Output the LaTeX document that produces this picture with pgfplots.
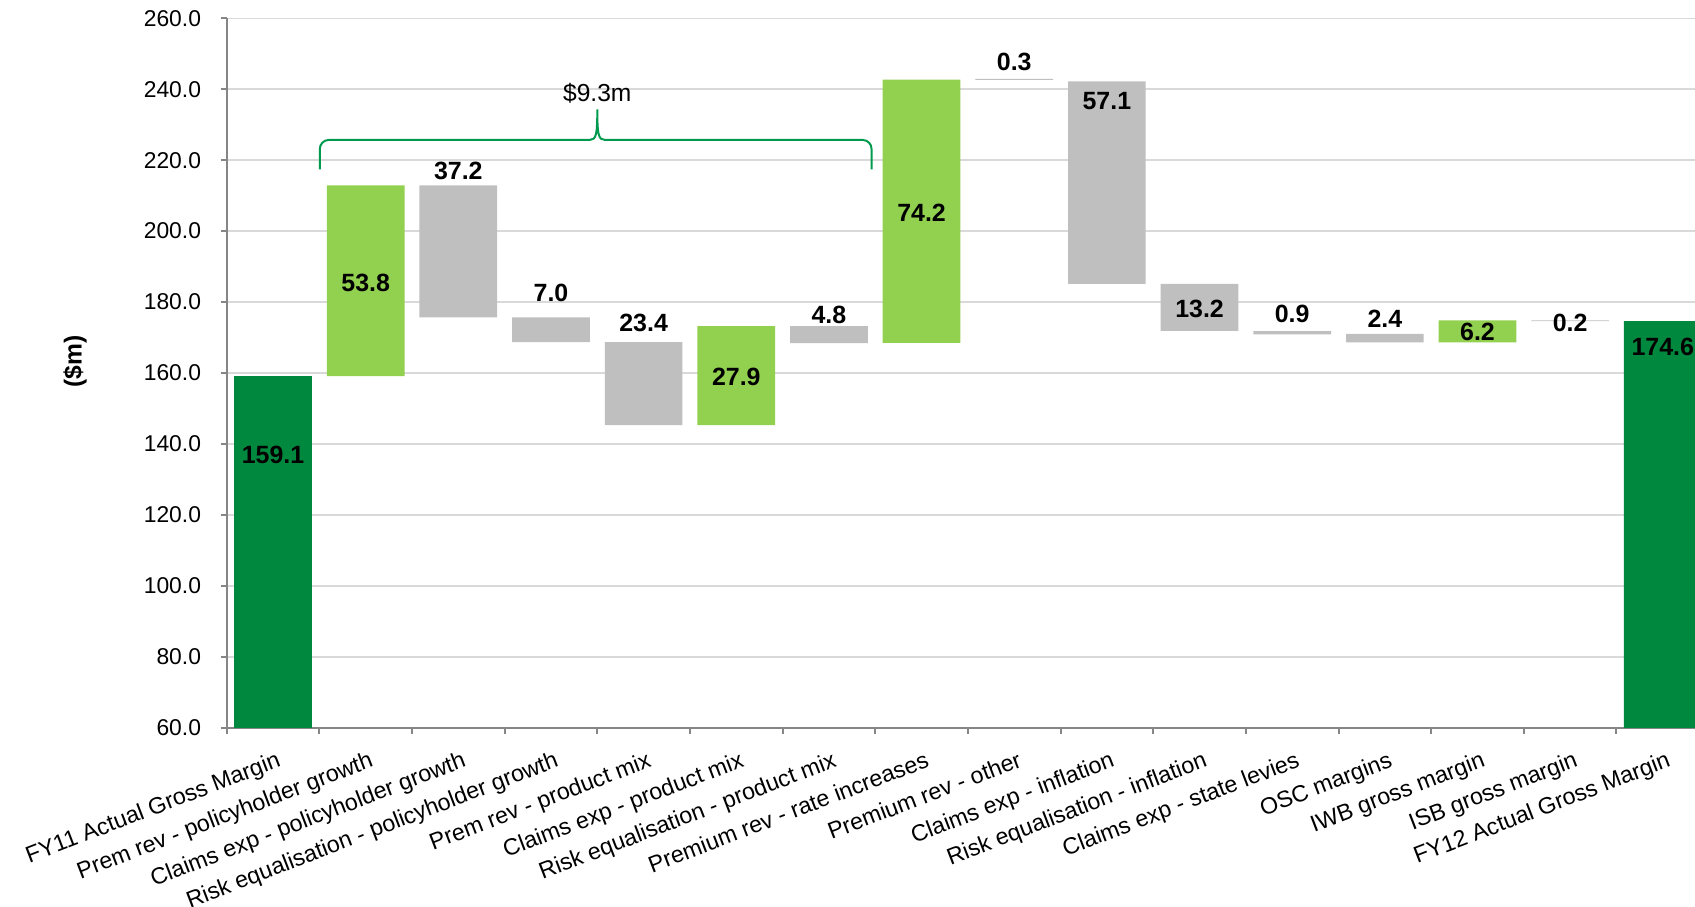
\documentclass[border=0pt]{standalone}
\usepackage{fontspec}
\setmainfont{Liberation Sans}
\usepackage{pgfplots}
\pgfplotsset{compat=1.18}
\usepackage{pgfplotstable}

\definecolor{dkgreen}{RGB}{0,137,62}
\definecolor{ltgreen}{RGB}{146,208,80}
\definecolor{bargrey}{RGB}{191,191,191}
\definecolor{gridgrey}{RGB}{217,217,217}
\definecolor{axisgrey}{RGB}{134,134,134}
\definecolor{bracegreen}{RGB}{0,154,78}

% waterfall: invisible base + visible segment
\pgfplotstableread{
x base total up down
0  0     159.1 0    0
1  159.1 0     53.8 0
2  175.7 0     0    37.2
3  168.7 0     0    7.0
4  145.3 0     0    23.4
5  145.3 0     27.9 0
6  168.4 0     0    4.8
7  168.5 0     74.2 0
8  242.6 0     0    0.3
9  185.1 0     0    57.1
10 171.9 0     0    13.2
11 170.9 0     0    0.9
12 168.6 0     0    2.4
13 168.6 0     6.2  0
14 174.6 0     0    0.2
15 0     174.6 0    0
}\bars

\pgfplotstableread{
x y label
0  136.9 159.1
1  185.5 53.8
2  217.0 37.2
3  182.5 7.0
4  174.0 23.4
5  158.8 27.9
6  176.4 4.8
7  205.2 74.2
8  247.8 0.3
9  236.8 57.1
10 178.0 13.2
11 176.6 0.9
12 175.4 2.4
13 171.6 6.2
14 174.2 0.2
15 167.4 174.6
}\labels

\pgfplotsset{myaxis/.style={
  at={(22.67mm,17.93mm)}, anchor=south west,
  x=9.265mm, y=0.3547mm,
  xmin=-0.5, xmax=15.5, ymin=60, ymax=260}}

\begin{document}
\begin{tikzpicture}
\begin{axis}[myaxis,
  ybar stacked, bar width=7.77mm,
  axis x line*=bottom, axis y line*=left,
  axis line style={-, draw=axisgrey, line width=0.2mm},
  ymajorgrids, grid style={draw=gridgrey, line width=0.15mm},
  ytick={60,80,...,260},
  xtick={-0.5,0.5,...,15.5}, x tick label as interval,
  xticklabels={FY11 Actual Gross Margin, Prem rev - policyholder growth,
    Claims exp - policyholder growth, Risk equalisation - policyholder growth,
    Prem rev - product mix, Claims exp - product mix,
    Risk equalisation - product mix, Premium rev - rate increases,
    Premium rev - other, Claims exp - inflation,
    Risk equalisation - inflation, Claims exp - state levies,
    OSC margins, IWB gross margin, ISB gross margin, FY12 Actual Gross Margin},
  tick align=outside, major tick length=0.6mm,
  tick style={draw=axisgrey, line width=0.2mm},
  /pgf/number format/assume math mode=true,
  yticklabel style={/pgf/number format/fixed, /pgf/number format/fixed zerofill, /pgf/number format/precision=1},
  y tick label style={font=\fontsize{6.5}{8}\selectfont, anchor=east, inner sep=0pt, xshift=-1.9mm},
  x tick label style={font=\fontsize{6.6}{8}\selectfont, anchor=north east, inner sep=0pt, xshift=0.3mm, yshift=-1.6mm, rotate=21},
]
\addplot[draw=none, fill=none] table[x=x, y=base] {\bars};
\addplot[draw=none, fill=dkgreen] table[x=x, y=total] {\bars};
\addplot[draw=none, fill=ltgreen] table[x=x, y=up] {\bars};
\addplot[draw=none, fill=bargrey] table[x=x, y=down] {\bars};
\end{axis}
\begin{axis}[myaxis, hide axis, clip=false]
\addplot[only marks, mark=none, nodes near coords, point meta=explicit symbolic,
  every node near coord/.append style={anchor=center, inner sep=0pt,
    font=\bfseries\fontsize{7.1}{8}\selectfont, text=black}]
  table[x=x, y=y, meta=label] {\labels};
\draw[bracegreen, line width=0.2mm, rounded corners=0.9mm]
  (axis cs:0.505,217.4) |- (axis cs:3.3,225.7);
\draw[bracegreen, line width=0.2mm]
  (axis cs:3.3,225.7) -- (axis cs:3.42,225.7)
  .. controls (axis cs:3.49,225.7) and (axis cs:3.5,227.5) .. (axis cs:3.5,234.3)
  .. controls (axis cs:3.5,227.5) and (axis cs:3.51,225.7) .. (axis cs:3.58,225.7)
  -- (axis cs:3.7,225.7);
\draw[bracegreen, line width=0.2mm, rounded corners=0.9mm]
  (axis cs:3.7,225.7) -| (axis cs:6.46,217.4);
\node[font=\fontsize{7}{8}\selectfont] at (axis cs:3.5,238.9) {\$9.3m};
\node[rotate=90, font=\bfseries\fontsize{7}{8}\selectfont] at (axis cs:-2.137,163.2) {(\$m)};
\end{axis}
\pgfresetboundingbox
\useasboundingbox (0,0) rectangle (169.5mm,90.7mm);
\end{tikzpicture}
\end{document}
